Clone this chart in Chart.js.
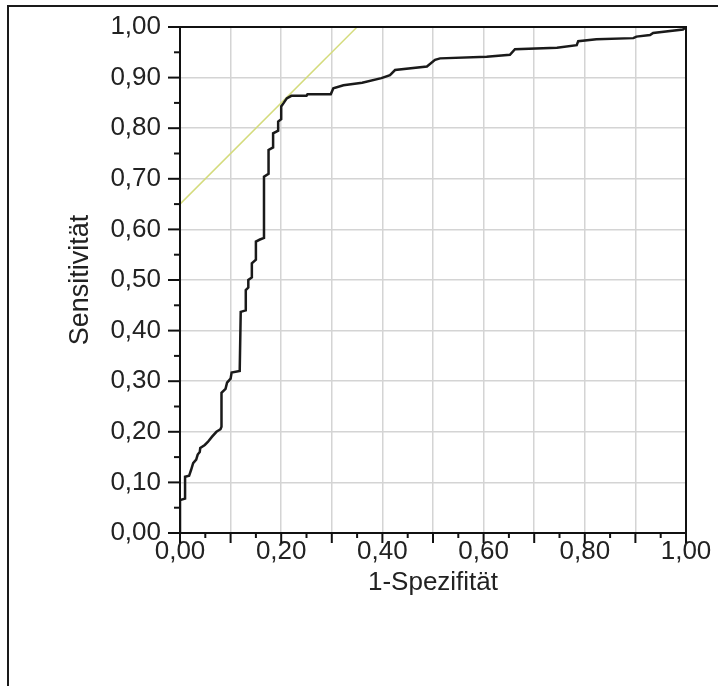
<!DOCTYPE html>
<html>
<head>
<meta charset="utf-8">
<script src="https://cdn.jsdelivr.net/npm/chart.js@4.4.1/dist/chart.umd.min.js"></script>
<style>
    html, body { margin: 0; padding: 0; background: #fff; }
    #frame {
        position: absolute; left: 7px; top: 5px; right: 0; bottom: 0;
        border-top: 2px solid #1a1a1a; border-left: 2px solid #1a1a1a;
    }
    #wrap { position: absolute; left: 0; top: 0; width: 718px; height: 686px; }
</style>
</head>
<body>
<div id="frame"></div>
<div id="wrap"><canvas id="rocChart" width="718" height="686"></canvas></div>
<script>
// ROC curve corners (1-Spezifität, Sensitivität)
const rocFpr = [0, 0, 0.01, 0.01, 0.018, 0.022, 0.026, 0.032, 0.035, 0.039, 0.04, 0.049, 0.055, 0.063, 0.072, 0.08, 0.082, 0.082, 0.09, 0.093, 0.1, 0.102, 0.118, 0.12, 0.13, 0.13, 0.135, 0.135, 0.142, 0.142, 0.15, 0.15, 0.158, 0.166, 0.166, 0.175, 0.175, 0.184, 0.184, 0.194, 0.194, 0.2, 0.2, 0.205, 0.211, 0.22, 0.25, 0.252, 0.298, 0.303, 0.323, 0.36, 0.398, 0.415, 0.425, 0.488, 0.504, 0.514, 0.606, 0.652, 0.662, 0.745, 0.784, 0.787, 0.823, 0.896, 0.902, 0.929, 0.935, 0.994, 1];
const rocTpr = [0, 0.065, 0.068, 0.111, 0.113, 0.125, 0.138, 0.145, 0.155, 0.16, 0.168, 0.174, 0.18, 0.19, 0.2, 0.205, 0.21, 0.277, 0.285, 0.297, 0.305, 0.317, 0.32, 0.437, 0.44, 0.48, 0.485, 0.5, 0.505, 0.533, 0.54, 0.576, 0.58, 0.583, 0.704, 0.71, 0.757, 0.762, 0.79, 0.795, 0.813, 0.818, 0.843, 0.85, 0.859, 0.864, 0.864, 0.867, 0.867, 0.879, 0.885, 0.89, 0.899, 0.905, 0.915, 0.922, 0.935, 0.938, 0.941, 0.945, 0.956, 0.959, 0.964, 0.972, 0.976, 0.978, 0.981, 0.984, 0.988, 0.995, 1];

// yellow reference line (slope 1)
const refX = [0, 0.35];
const refY = [0.65, 1.0];

const fontFamily = '"Liberation Sans", Arial, sans-serif';
const fmt = v => v.toFixed(2).replace('.', ',');

// frame around the plot and the outside tick marks
const frameTicks = {
    id: 'frameTicks',
    afterDraw(chart) {
        const { ctx, chartArea: a, scales: { x, y } } = chart;
        ctx.save();
        ctx.strokeStyle = '#111';
        ctx.lineWidth = 2;
        ctx.strokeRect(a.left, a.top, a.right - a.left, a.bottom - a.top);
        for (let i = 0; i <= 20; i++) {
            const v = i / 20;
            const major = i % 2 === 0;
            const px = x.getPixelForValue(v);
            ctx.beginPath();
            ctx.moveTo(px, a.bottom);
            ctx.lineTo(px, a.bottom + (major ? 10 : 5));
            ctx.stroke();
            const py = y.getPixelForValue(v);
            ctx.beginPath();
            ctx.moveTo(a.left, py);
            ctx.lineTo(a.left - (major ? 12 : 6), py);
            ctx.stroke();
        }
        ctx.restore();
    }
};

new Chart(document.getElementById('rocChart'), {
    type: 'scatter',
    data: {
        datasets: [{
            data: rocFpr.map((v, i) => ({ x: v, y: rocTpr[i] })),
            showLine: true,
            borderColor: '#1a1a1a',
            borderWidth: 2.5,
            pointRadius: 0,
            tension: 0
        }, {
            data: refX.map((v, i) => ({ x: v, y: refY[i] })),
            showLine: true,
            borderColor: '#d4db7c',
            borderWidth: 1.5,
            pointRadius: 0
        }]
    },
    options: {
        responsive: false,
        animation: false,
        layout: { padding: { left: 0, top: 27, right: 32, bottom: 0 } },
        plugins: { legend: { display: false }, tooltip: { enabled: false } },
        scales: {
            x: {
                type: 'linear',
                min: 0,
                max: 1,
                afterFit(scale) { scale.height = 153; },
                border: { display: false },
                grid: { color: '#d4d4d4', lineWidth: 1.5, drawTicks: false },
                ticks: {
                    stepSize: 0.1,
                    padding: 3,
                    maxRotation: 0,
                    minRotation: 0,
                    autoSkip: false,
                    color: '#222',
                    font: { family: fontFamily, size: 26 },
                    callback: (v, i) => (i % 2 === 0 ? fmt(v) : '')
                },
                title: {
                    display: true,
                    text: '1-Spezifität',
                    color: '#222',
                    font: { family: fontFamily, size: 26 },
                    padding: { bottom: 88 }
                }
            },
            y: {
                type: 'linear',
                min: 0,
                max: 1,
                afterFit(scale) {
                    scale.width = 180;
                    scale.paddingTop = 0;
                    scale.paddingBottom = 0;
                },
                border: { display: false },
                grid: { color: '#d4d4d4', lineWidth: 1.5, drawTicks: false },
                ticks: {
                    stepSize: 0.1,
                    padding: 19,
                    color: '#222',
                    font: { family: fontFamily, size: 26 },
                    callback: v => fmt(v)
                },
                title: {
                    display: true,
                    text: 'Sensitivität',
                    color: '#222',
                    font: { family: fontFamily, size: 27 },
                    padding: { top: 64 }
                }
            }
        }
    },
    plugins: [frameTicks]
});
</script>
</body>
</html>
